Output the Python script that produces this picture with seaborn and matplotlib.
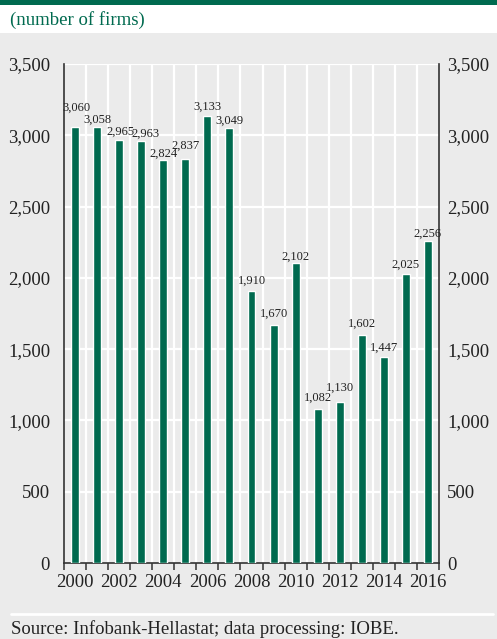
import matplotlib
matplotlib.use("Agg")
import matplotlib.pyplot as plt
import seaborn as sns
import numpy as np
from matplotlib.patches import Rectangle
from matplotlib.lines import Line2D

# Number of firms per year
years = [str(y) for y in range(2000, 2017)]
firms = [3060, 3058, 2965, 2963, 2824, 2837, 3133, 3049, 1910, 1670,
         2102, 1082, 1130, 1602, 1447, 2025, 2256]
value_labels = ["3,060", "3,058", "2,965", "2,963", "2,824", "2,837", "3,133", "3,049",
                "1,910", "1,670", "2,102", "1,082", "1,130", "1,602", "1,447", "2,025", "2,256"]
yticks = [0, 500, 1000, 1500, 2000, 2500, 3000, 3500]
ytick_labels = ["0", "500", "1,000", "1,500", "2,000", "2,500", "3,000", "3,500"]

# label placement above each bar (pixels above bar top, horizontal nudge)
label_rise = [19, 7, 9, 7, 7, 13, 10, 8, 10, 11, 7, 11, 14, 11, 9, 10, 8]
label_nudge = [1, 0, 1, 4, 0, 0, 0, 0, 0, 0, 0, 0, 0, 0, 0, 0, 0]

GREEN = "#006A4F"
BG = "#EBEBEB"
SERIF = ["Liberation Serif", "DejaVu Serif"]

sns.set_theme(style="white")
plt.rcParams["font.family"] = SERIF

W, H = 497, 639
fig = plt.figure(figsize=(W / 100, H / 100), dpi=100, facecolor=BG)

# header bands
fig.patches.append(Rectangle((0, 1 - 33 / H), 1, 33 / H, transform=fig.transFigure,
                             facecolor="white", edgecolor="none", zorder=0))
fig.patches.append(Rectangle((0, 1 - 5 / H), 1, 5 / H, transform=fig.transFigure,
                             facecolor=GREEN, edgecolor="none", zorder=1))
fig.text(10 / W, 1 - 20 / H, "(number of firms)", color=GREEN, fontsize=13.5,
         va="center", ha="left", family=SERIF)

left, right, top, bottom = 64, 439, 64, 563
ax = fig.add_axes([left / W, 1 - bottom / H, (right - left) / W, (bottom - top) / H])
ax.set_facecolor(BG)

sns.barplot(x=years, y=firms, color=GREEN, width=0.36, saturation=1, ax=ax, zorder=3)

ax.set_xlim(-0.5, len(years) - 0.5)
ax.set_ylim(0, 3500)
ax.set_xlabel("")
ax.set_ylabel("")

# gridlines: white horizontal at y ticks, white vertical at category boundaries
ax.set_yticks(yticks)
ax.set_yticklabels(ytick_labels)
bounds = np.arange(-0.5, len(years), 1.0)
ax.set_xticks(bounds, minor=True)
ax.set_xticks(np.arange(0, len(years), 2))
ax.set_xticklabels(years[::2])
ax.grid(False)
for yv in yticks[1:]:
    ax.axhline(yv, color="white", lw=1.6, zorder=1)
for b in bounds[1:-1]:
    ax.axvline(b, color="white", lw=1.6, zorder=1)

ax.tick_params(axis="x", which="major", length=0, pad=8, labelsize=13.5, colors="#222222")
ax.xaxis.set_tick_params(which="minor", bottom=True, length=5, width=1.1,
                         direction="out", color="#333333")
ax.tick_params(axis="y", length=0, pad=10, labelsize=13.5, colors="#222222")

for side in ["left", "right", "bottom"]:
    ax.spines[side].set_visible(True)
    ax.spines[side].set_color("#333333")
    ax.spines[side].set_linewidth(1.2)
ax.spines["top"].set_visible(False)

# right-hand axis mirrors the left one
ax2 = ax.twinx()
ax2.set_ylim(ax.get_ylim())
ax2.set_yticks(yticks)
ax2.set_yticklabels(ytick_labels)
ax2.tick_params(axis="y", length=0, pad=6, labelsize=13.5, colors="#222222")
ax2.grid(False)
for s in ax2.spines.values():
    s.set_visible(False)

# value labels
for i, (v, lab) in enumerate(zip(firms, value_labels)):
    ax.annotate(lab, xy=(i, v), xytext=(label_nudge[i] * 0.72, label_rise[i] * 0.72),
                textcoords="offset points", ha="center", va="center",
                fontsize=9, color="#222222", zorder=4, family=SERIF)

# footer
fig.add_artist(Line2D([11 / W, 493 / W], [1 - 614 / H, 1 - 614 / H],
                      transform=fig.transFigure, color="white", lw=2))
fig.text(11 / W, 1 - 629 / H, "Source: Infobank-Hellastat; data processing: IOBE.",
         color="#222222", fontsize=13.5, va="center", ha="left", family=SERIF)

fig.savefig("out.png", dpi=100, facecolor=BG)
